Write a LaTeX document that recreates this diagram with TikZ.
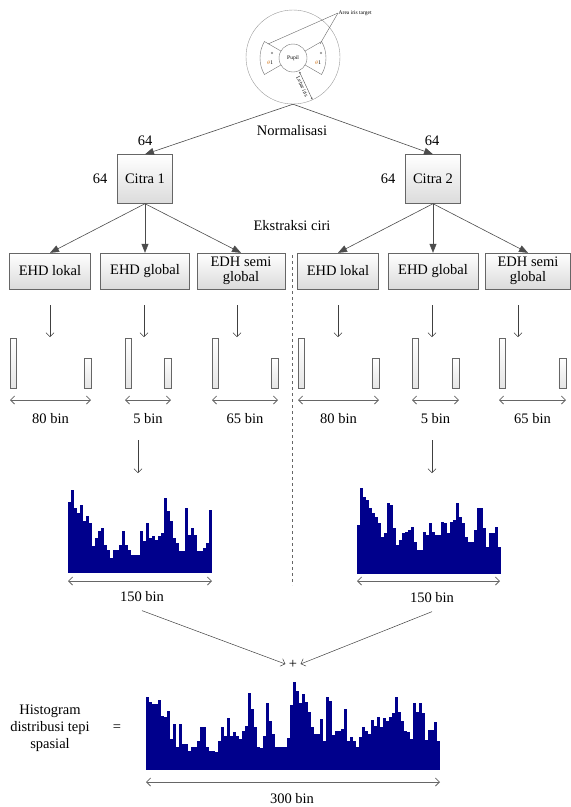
\documentclass[tikz,border=0pt]{standalone}
\usepackage{fontspec}
\setmainfont{Liberation Serif}
\usetikzlibrary{arrows.meta}
\definecolor{histblue}{RGB}{0,0,140}

\begin{document}
\begin{tikzpicture}[x=1pt,y=-1pt,font=\fontsize{14.5}{15}\selectfont]
    \tikzstyle{box}=[rectangle,draw=black!60,top color=white,bottom color=black!14,inner sep=1pt,align=center]
    \tikzstyle{bar}=[rectangle,draw=black!60,top color=white,bottom color=black!10,inner sep=0pt]
    \tikzstyle{big}=[draw=black!70,line width=0.6pt,-{Triangle[length=9pt,width=7pt]}]
    \tikzstyle{small}=[draw=black!75,line width=0.5pt,-{Straight Barb[length=4pt,width=8pt]}]
    \tikzstyle{span}=[draw=black!60,line width=0.8pt,{Straight Barb[length=4pt,width=8pt]}-{Straight Barb[length=4pt,width=8pt]}]
    \tikzstyle{tiny}=[font=\fontsize{5.5}{6}\selectfont,inner sep=0.5pt]
    \useasboundingbox (0,0) rectangle (571,807);

    % eye sketch
    \coordinate (pc) at (293,58);
    \node[circle,draw=black!40,minimum size=94pt,inner sep=0pt] (eye) at (293,57) {};
    \node[circle,draw=black!55,fill=white,minimum size=28pt,inner sep=0pt,font=\fontsize{5.5}{6}\selectfont] (pupil) at (pc) {Pupil};
    \foreach \a in {150,-30}
        \draw[black!55] ([shift={(\a:14pt)}]pc) -- ([shift={(\a:33pt)}]pc)
            arc[start angle=\a,delta angle=60,radius=33pt] -- ([shift={({\a+60}:14pt)}]pc);
    \node[tiny] (th-l) at (270,63) {{\color{orange!80!black}$\theta$}1};
    \node[tiny] (th-r) at (318,63) {{\color{orange!80!black}$\theta$}1};
    \draw[black!70,line width=0.3pt] (272,53) circle (1pt);
    \draw[black!70,line width=0.3pt] (321,53) circle (1pt);
    \node[tiny,anchor=west] (area) at (338,13) {Area iris target};
    \coordinate (wl) at (268,44);
    \coordinate (wr) at (320,44);
    \draw[black!60,line width=0.4pt] (area.west) -- (wl);
    \draw[black!60,line width=0.4pt] (area.west) -- (wr);
    \coordinate (li1) at ([shift={(-65:15pt)}]pc);
    \coordinate (li2) at ([shift={(-65:46pt)}]pc);
    \coordinate (limid) at ([shift={(-65:30pt)}]pc);
    \draw[black!70,line width=0.4pt,{Stealth[length=2pt]}-{Stealth[length=2pt]}] (li1) -- (li2);
    \node[tiny,rotate=-65,anchor=north] (lebar) at ([shift={(-155:1pt)}]limid) {Lebar iris};

    % normalisasi
    \node[box,minimum width=55pt,minimum height=49pt] (c1) at (145,179) {Citra 1};
    \node[box,minimum width=55pt,minimum height=49pt] (c2) at (433,179) {Citra 2};
    \draw[big] (eye.south) -- (c1.north);
    \draw[big] (eye.south) -- (c2.north);
    \node (norm) at (292,131) {Normalisasi};
    \node (c1-w) at (145,141) {64};
    \node (c1-h) at (100,179) {64};
    \node (c2-w) at (432,141) {64};
    \node (c2-h) at (388,179) {64};

    % ekstraksi ciri
    \node (ciri) at (292,226) {Ekstraksi ciri};
    \foreach \name/\x/\w/\txt in {f1/50/81/EHD lokal, f2/145/89/EHD global, f3/241/88/EDH semi\\global,
                                  f4/338/81/EHD lokal, f5/433/90/EHD global, f6/528/85/EDH semi\\global}
        \node[box,minimum width=\w pt,minimum height=36pt] (\name) at (\x,271) {\txt};
    \foreach \from/\to in {c1/f1, c1/f2, c1/f3, c2/f4, c2/f5, c2/f6}
        \draw[big] (\from.south) -- (\to.north);

    \coordinate (sep-a) at (292,255);
    \coordinate (sep-b) at (292,585);
    \draw[dashed,black!60,line width=0.5pt] (sep-a) -- (sep-b);

    % bins per feature
    \foreach \g/\xa/\xb/\xm/\lab in {l1/10/91/50/80 bin, l2/125/171/144/5 bin, l3/212/278/237/65 bin,
                                      r1/298/379/338/80 bin, r2/412/459/432/5 bin, r3/499/566/518/65 bin} {
        \coordinate (\g-from) at (\xm,305);
        \coordinate (\g-to) at (\xm,337);
        \draw[small] (\g-from) -- (\g-to);
        \node[bar,minimum width=6pt,minimum height=50pt,anchor=south west] (\g-tall) at (\xa,388) {};
        \node[bar,minimum width=7pt,minimum height=30pt,anchor=south east] (\g-short) at (\xb,388) {};
        \draw[span] ([yshift=-12pt]\g-tall.south west) -- ([yshift=-12pt]\g-short.south east);
        \node (\g-lab) at ({(\xa+\xb)/2},419) {\lab};
    }

    % histogram citra 1
    \coordinate (hl-from) at (138,440);
    \coordinate (hl-to) at (138,473);
    \draw[small] (hl-from) -- (hl-to);
    \foreach \h [count=\i] in {71,83,65,60,68,52,57,50,27,35,42,45,28,23,15,23,23,28,42,28,23,18,18,18,
                               42,32,50,35,37,33,37,40,75,62,52,35,30,22,22,65,38,45,38,22,22,25,30,63}
        \fill[histblue] ({68+3*(\i-1)},573) rectangle ++(3.3,-\h);
    \coordinate (hl-a) at (68,581);
    \coordinate (hl-b) at (212,581);
    \draw[span] (hl-a) -- (hl-b);
    \node (hl-lab) at (142,597) {150 bin};

    % histogram citra 2
    \coordinate (hr-from) at (432,440);
    \coordinate (hr-to) at (432,473);
    \draw[small] (hr-from) -- (hr-to);
    \foreach \h [count=\i] in {49,86,77,74,66,61,57,51,37,41,71,69,46,29,34,41,42,44,47,32,24,24,42,39,
                               51,42,39,39,52,51,41,52,54,71,57,51,37,32,32,44,66,66,46,27,41,41,47,27}
        \fill[histblue] ({357+3*(\i-1)},574) rectangle ++(3.3,-\h);
    \coordinate (hr-a) at (357,581);
    \coordinate (hr-b) at (500,581);
    \draw[span] (hr-a) -- (hr-b);
    \node (hr-lab) at (432,598) {150 bin};

    % gabungan
    \node (plus) at (293,664) {+};
    \draw[small] ([yshift=-5pt]hl-lab.south) -- (plus.west);
    \draw[small] ([yshift=-5pt]hr-lab.south) -- (plus.east);
    \node[align=center,font=\fontsize{14.5}{17}\selectfont] (hist) at (50,728) {Histogram\\distribusi tepi\\spasial};
    \node (eq) at (117,728) {=};
    \foreach \h [count=\i] in {73,68,66,66,70,54,53,59,31,46,23,46,26,26,19,23,23,29,43,43,
                               23,19,19,18,29,43,34,52,34,38,34,31,39,44,77,61,43,23,22,34,
                               67,49,36,23,23,23,23,32,65,88,79,67,76,68,58,43,36,36,51,29,
                               73,69,35,39,39,41,61,29,33,29,23,33,43,39,36,50,44,53,43,52,
                               49,53,57,73,58,49,39,38,31,67,58,67,57,30,40,40,48,29}
        \fill[histblue] ({146+3*(\i-1)},770) rectangle ++(3.3,-\h);
    \coordinate (ht-a) at (146,782);
    \coordinate (ht-b) at (440,782);
    \draw[span] (ht-a) -- (ht-b);
    \node (ht-lab) at (292,799) {300 bin};
\end{tikzpicture}
\end{document}
